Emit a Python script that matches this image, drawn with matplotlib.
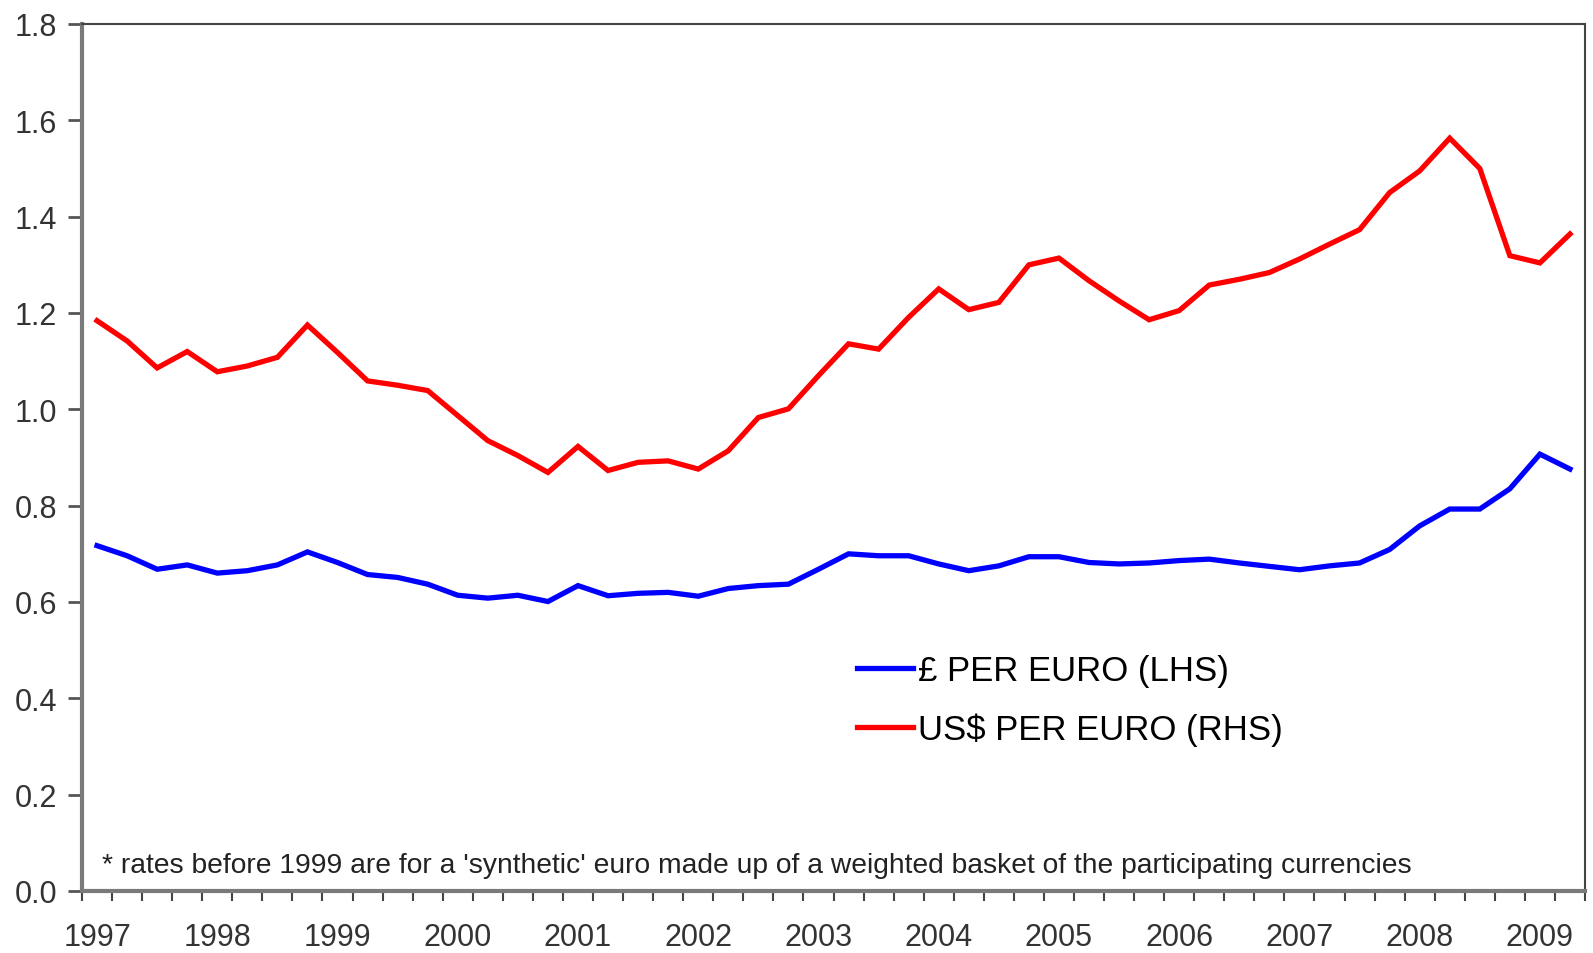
import matplotlib
matplotlib.use("Agg")
import matplotlib.pyplot as plt
import numpy as np

plt.rcParams['font.family'] = ['Liberation Sans', 'DejaVu Sans']

# Quarterly data, 1997 Q1 .. 2009 Q2
years = [str(y) for y in range(1997, 2010)]
gbp_per_euro = [0.717, 0.696, 0.668, 0.677, 0.660, 0.665, 0.677, 0.704, 0.682, 0.657,
                0.651, 0.637, 0.614, 0.608, 0.614, 0.601, 0.634, 0.613, 0.618, 0.620,
                0.612, 0.628, 0.634, 0.637, 0.668, 0.700, 0.696, 0.696, 0.679, 0.665,
                0.675, 0.694, 0.694, 0.682, 0.679, 0.681, 0.686, 0.689, 0.681, 0.674,
                0.667, 0.675, 0.681, 0.709, 0.758, 0.793, 0.793, 0.835, 0.907, 0.876]
usd_per_euro = [1.184, 1.142, 1.086, 1.120, 1.078, 1.090, 1.108, 1.175, 1.118, 1.059,
                1.050, 1.039, 0.987, 0.935, 0.904, 0.869, 0.923, 0.873, 0.890, 0.893,
                0.876, 0.914, 0.983, 1.001, 1.070, 1.136, 1.125, 1.191, 1.250, 1.207,
                1.222, 1.300, 1.314, 1.267, 1.225, 1.186, 1.205, 1.258, 1.270, 1.284,
                1.312, 1.343, 1.373, 1.450, 1.495, 1.563, 1.500, 1.319, 1.304, 1.364]
series_labels = ["£ PER EURO (LHS)", "US$ PER EURO (RHS)"]
footnote = ("* rates before 1999 are for a 'synthetic' euro made up of a weighted "
            "basket of the participating currencies")

W, H = 1593, 954
fig = plt.figure(figsize=(W / 100, H / 100), dpi=100)
L, R, T, B = 82, 1585, 25, 892
ax = fig.add_axes([L / W, 1 - B / H, (R - L) / W, (B - T) / H])

x = np.arange(len(gbp_per_euro))
ax.plot(x, gbp_per_euro, color='#0000FF', lw=3.8, label=series_labels[0], solid_joinstyle='miter')
ax.plot(x, usd_per_euro, color='#FF0000', lw=3.8, label=series_labels[1], solid_joinstyle='miter')

ax.set_xlim(-0.5, len(x) - 0.5)
ax.set_ylim(0, 1.8)

ax.set_yticks(np.arange(0, 1.81, 0.2))
ax.set_yticklabels([f"{v:.1f}" for v in np.arange(0, 1.81, 0.2)])
ax.tick_params(axis='y', direction='out', length=10, width=2, color='#555555',
               pad=8, labelsize=22, labelcolor='#333333')

ax.set_xticks(np.arange(0, len(x), 4))
ax.set_xticklabels(years)
ax.set_xticks(np.arange(-0.5, len(x), 1), minor=True)
ax.tick_params(axis='x', which='major', length=0, pad=22, labelsize=22, labelcolor='#333333')
ax.tick_params(axis='x', which='minor', direction='out', length=7, width=1.5, color='#444444')

for s in ['left', 'bottom']:
    ax.spines[s].set_color('#7a7a7a')
    ax.spines[s].set_linewidth(3)
for s in ['top', 'right']:
    ax.spines[s].set_color('#444444')
    ax.spines[s].set_linewidth(1.5)
    ax.spines[s].set_linestyle((0, (1, 1)))

ax.text(0.0133, (B - 866) / (B - T), footnote, transform=ax.transAxes,
        ha='left', va='center', fontsize=20.3, color='#222222')

fig.legend(loc='center left', bbox_to_anchor=(857 / W, 1 - 701 / H), frameon=False,
           fontsize=25, handlelength=1.6, handletextpad=0.15, labelspacing=0.75,
           borderpad=0, borderaxespad=0)

fig.savefig("out.png", dpi=100)
